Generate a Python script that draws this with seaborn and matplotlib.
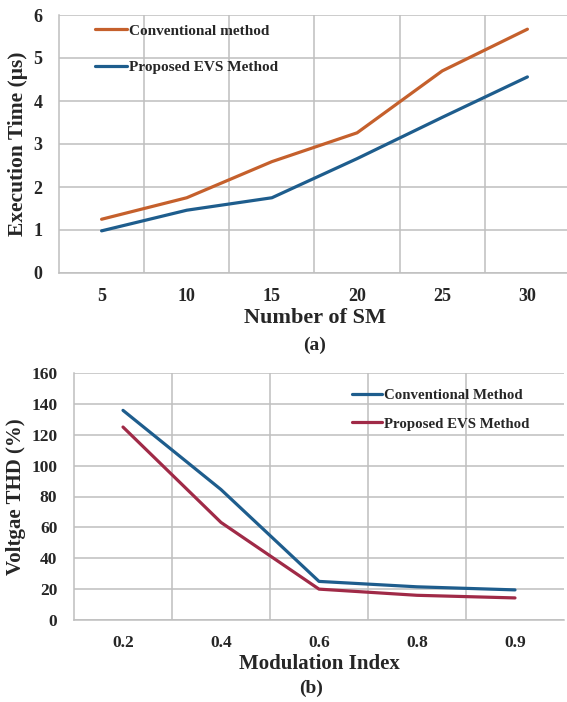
import matplotlib
matplotlib.use("Agg")
import matplotlib.pyplot as plt
import seaborn as sns
import pandas as pd
import numpy as np

# ---- data ----
sm_categories = ["5", "10", "15", "20", "25", "30"]
exec_conventional = [1.25, 1.75, 2.59, 3.26, 4.70, 5.67]
exec_proposed = [0.98, 1.46, 1.75, 2.66, 3.62, 4.56]

mi_categories = ["0.2", "0.4", "0.6", "0.8", "0.9"]
thd_conventional = [135.8, 84.5, 25.0, 21.5, 19.5]
thd_proposed = [125.0, 63.2, 20.0, 16.0, 14.3]

ORANGE = "#C5602C"
BLUE = "#1E5D8D"
CRIMSON = "#A02A47"
GRID = "#BFBFBF"

sns.set_theme(style="white")
plt.rcParams["font.family"] = ["Liberation Serif", "DejaVu Serif"]
plt.rcParams["font.weight"] = "bold"
plt.rcParams["axes.labelweight"] = "bold"

W, H = 567, 702
fig = plt.figure(figsize=(W / 100, H / 100), dpi=100)


def px_axes(left, top, right, bottom):
    return fig.add_axes([left / W, 1 - bottom / H, (right - left) / W, (bottom - top) / H])


def style_axes(ax, ncat, yticks, tick_fs):
    ax.set_xlim(-0.5, ncat - 0.5)
    ax.set_xticks(np.arange(ncat - 1) + 0.5, minor=True)
    ax.grid(True, which="minor", axis="x", color=GRID, linewidth=1.1)
    ax.grid(True, which="major", axis="y", color=GRID, linewidth=1.1)
    ax.grid(False, which="major", axis="x")
    ax.set_yticks(yticks)
    ax.set_ylim(yticks[0], yticks[-1])
    for s in ["top", "right"]:
        ax.spines[s].set_visible(False)
    for s in ["left", "bottom"]:
        ax.spines[s].set_color(GRID)
        ax.spines[s].set_linewidth(1.1)
    ax.tick_params(axis="both", which="both", length=0, labelsize=tick_fs)
    ax.tick_params(axis="y", pad=12)
    ax.tick_params(axis="x", pad=11)
    for lab in ax.get_xticklabels() + ax.get_yticklabels():
        lab.set_fontweight("bold")
    ax.set_axisbelow(True)


# ---- top chart (a) ----
df_a = pd.DataFrame({
    "pos": list(range(len(sm_categories))) * 2,
    "value": exec_conventional + exec_proposed,
    "series": ["Conventional method"] * len(sm_categories) + ["Proposed EVS Method"] * len(sm_categories),
})
ax1 = px_axes(59, 15, 570, 273)
sns.lineplot(data=df_a, x="pos", y="value", hue="series",
             palette={"Conventional method": ORANGE, "Proposed EVS Method": BLUE},
             linewidth=2.3, ax=ax1, legend=True, sort=False)
style_axes(ax1, len(sm_categories), [0, 1, 2, 3, 4, 5, 6], 13)
ax1.set_xticks(range(len(sm_categories)))
ax1.set_xticklabels(sm_categories, fontweight="bold")
ax1.set_xlabel("Number of SM", fontsize=16, fontweight="bold", labelpad=2)
ax1.set_ylabel("Execution Time (μs)", fontsize=15.5, fontweight="bold", labelpad=4)
h, l = ax1.get_legend_handles_labels()
ax1.legend(h, l, loc="upper left", bbox_to_anchor=((95 - 59) / 511, (273 - 24) / 258),
           frameon=False, borderpad=0, borderaxespad=0, handlelength=2.1,
           handletextpad=0.12, labelspacing=1.5,
           prop={"family": "Liberation Serif", "weight": "bold", "size": 11})
fig.text(315 / W, 1 - 345 / H, "(a)", ha="center", va="center", fontsize=14, fontweight="bold")

# ---- bottom chart (b) ----
df_b = pd.DataFrame({
    "pos": list(range(len(mi_categories))) * 2,
    "value": thd_conventional + thd_proposed,
    "series": ["Conventional Method"] * len(mi_categories) + ["Proposed EVS Method"] * len(mi_categories),
})
ax2 = px_axes(74, 373, 564, 620)
sns.lineplot(data=df_b, x="pos", y="value", hue="series",
             palette={"Conventional Method": BLUE, "Proposed EVS Method": CRIMSON},
             linewidth=2.3, ax=ax2, legend=True, sort=False)
style_axes(ax2, len(mi_categories), [0, 20, 40, 60, 80, 100, 120, 140, 160], 12.5)
ax2.set_xticks(range(len(mi_categories)))
ax2.set_xticklabels(mi_categories, fontweight="bold")
ax2.set_xlabel("Modulation Index", fontsize=15, fontweight="bold", labelpad=2)
ax2.set_ylabel("Voltgae THD (%)", fontsize=15, fontweight="bold", labelpad=4)
h, l = ax2.get_legend_handles_labels()
ax2.legend(h, l, loc="upper left", bbox_to_anchor=((352 - 74) / 490, (620 - 389) / 247),
           frameon=False, borderpad=0, borderaxespad=0, handlelength=2.0,
           handletextpad=0.12, labelspacing=1.0,
           prop={"family": "Liberation Serif", "weight": "bold", "size": 10.7})
fig.text(311 / W, 1 - 688 / H, "(b)", ha="center", va="center", fontsize=14, fontweight="bold")

fig.savefig("out.png", dpi=100)
